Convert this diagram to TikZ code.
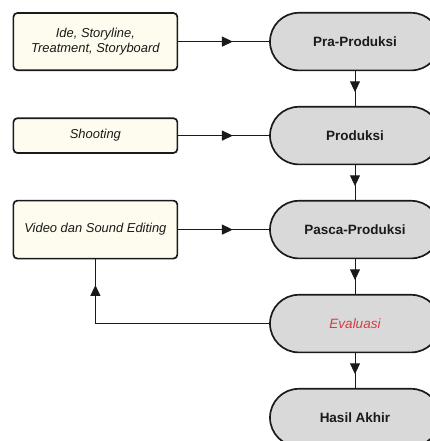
\documentclass[tikz,border=0pt]{standalone}
\usepackage{fontspec}
\setmainfont{Liberation Sans}
\usetikzlibrary{positioning, arrows.meta, decorations.markings}

\definecolor{cream}{HTML}{FEFCEE}
\definecolor{pillgray}{HTML}{D9D9D9}
\definecolor{evalred}{HTML}{D63A45}
\definecolor{ink}{HTML}{1A1A1A}

\tikzset{
  tahap/.style={draw=ink, line width=1.2pt, fill=pillgray, rounded corners=0.72cm,
    minimum width=4.25cm, minimum height=1.44cm, text=ink,
    font=\fontsize{9.6}{11}\selectfont\bfseries},
  kegiatan/.style={draw=ink, line width=1.2pt, fill=cream, rounded corners=0.1cm,
    minimum width=4.1cm, text=ink, align=center,
    font=\fontsize{9.2}{11}\selectfont\itshape},
  midarrow/.style={draw=ink, line width=0.7pt, decoration={markings,
    mark=at position 0.6 with {\arrow{Triangle[length=0.27cm, width=0.25cm]}}},
    postaction={decorate}},
  garis/.style={draw=ink, line width=0.7pt}
}

\begin{document}
\begin{tikzpicture}[node distance=2.35cm]
\useasboundingbox (0,0) rectangle (10.725,-11.025);
% tahapan utama
\node[tahap] (pra) at (8.875,-1.04) {Pra-Produksi};
\node[tahap] (prod) [below of=pra] {Produksi};
\node[tahap] (pasca) [below of=prod] {Pasca-Produksi};
\node[tahap, text=evalred, font=\fontsize{9.6}{11}\selectfont\itshape] (eval) [below of=pasca] {Evaluasi};
\node[tahap] (hasil) [below of=eval] {Hasil Akhir};
% kegiatan tiap tahap
\node[kegiatan, minimum height=1.43cm] (ide) [left of=pra, node distance=6.49cm] {Ide, Storyline,\\Treatment, Storyboard};
\node[kegiatan, minimum height=0.87cm] (shoot) [left of=prod, node distance=6.49cm] {Shooting};
\node[kegiatan, minimum height=1.45cm] (edit) [left of=pasca, node distance=6.49cm] {Video dan Sound Editing};
\draw[midarrow] (ide) -- (pra);
\draw[midarrow] (shoot) -- (prod);
\draw[midarrow] (edit) -- (pasca);
\draw[midarrow] (pra) -- (prod);
\draw[midarrow] (prod) -- (pasca);
\draw[midarrow] (pasca) -- (eval);
\draw[midarrow] (eval) -- (hasil);
% umpan balik
\coordinate (balik) at (edit |- eval);
\draw[garis] (eval.west) -| (edit.south);
\draw[midarrow] (balik) -- (edit.south);
\end{tikzpicture}
\end{document}
